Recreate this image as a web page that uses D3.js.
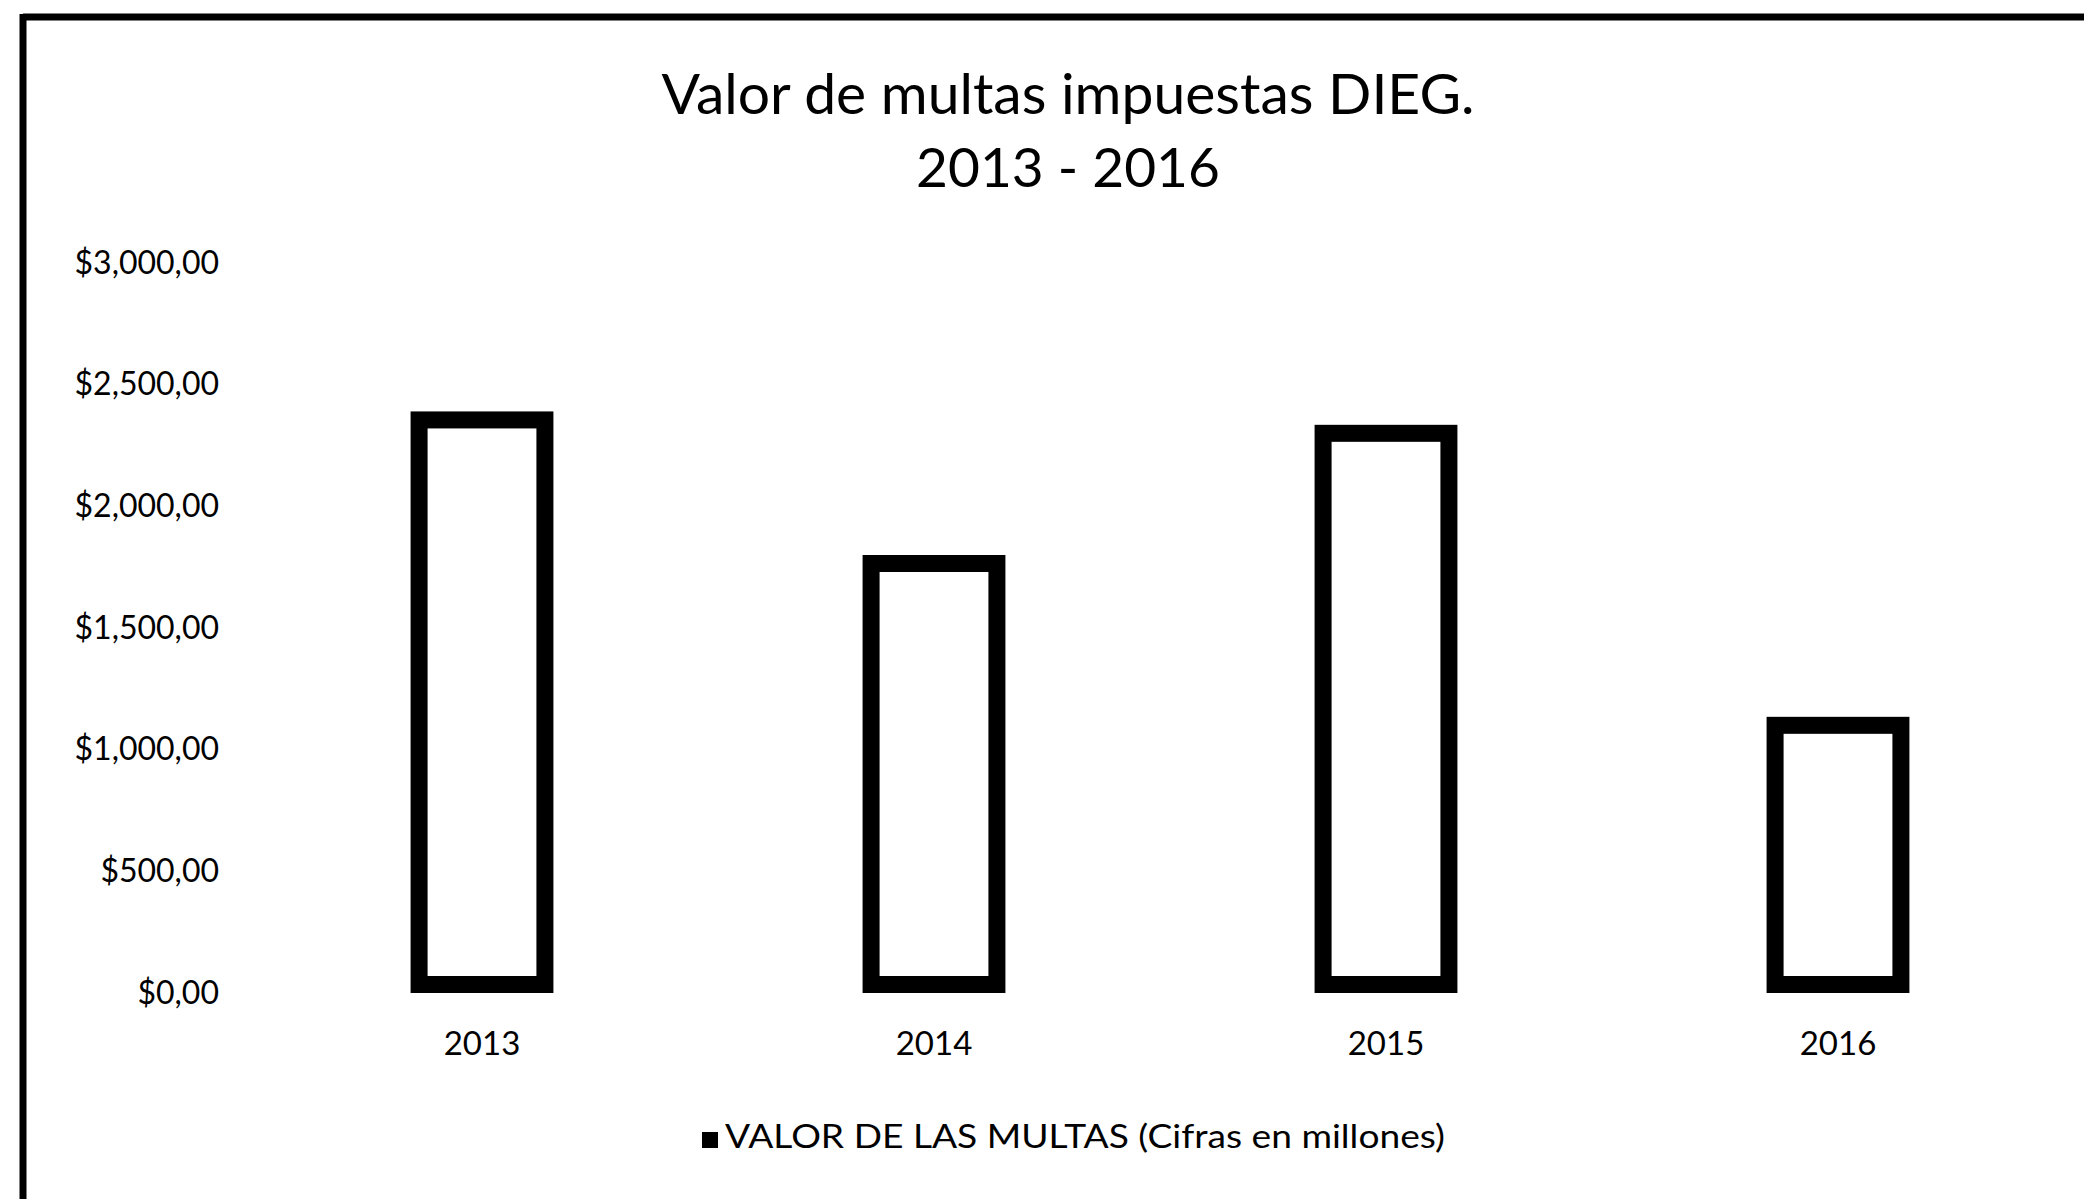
<!DOCTYPE html>
<html>
<head>
<meta charset="utf-8">
<script src="https://cdn.jsdelivr.net/npm/d3@7.9.0/dist/d3.min.js"></script>
<style>
  body { margin: 0; background: #fff; }
  svg { display: block; font-family: Lato, 'Open Sans', sans-serif; }
</style>
</head>
<body>
<div id="chart"></div>
<script>
// data (millions)
const years = ['2013', '2014', '2015', '2016'];
const multas = [2390, 1800, 2335, 1135];
const yTicks = [0, 500, 1000, 1500, 2000, 2500, 3000];

const titleLines = ['Valor de multas impuestas DIEG.', '2013 - 2016'];
const legendLabel = 'VALOR DE LAS MULTAS (Cifras en millones)';

const width = 2084;
const height = 1199;

const svg = d3.select('#chart')
    .append('svg')
    .attr('width', width)
    .attr('height', height);

// frame of the pasted chart (only top + left survive in the scan)
svg.append('line')
    .attr('x1', 23).attr('x2', width)
    .attr('y1', 17).attr('y2', 17)
    .attr('stroke', '#000').attr('stroke-width', 7);
svg.append('line')
    .attr('x1', 23).attr('x2', 23)
    .attr('y1', 14).attr('y2', height)
    .attr('stroke', '#000').attr('stroke-width', 7);

// title
svg.append('g')
    .selectAll('text')
    .data(titleLines)
    .join('text')
    .attr('x', 1068)
    .attr('y', (d, i) => 100 + i * 73)
    .attr('text-anchor', 'middle')
    .attr('dominant-baseline', 'middle')
    .style('font-size', (d, i) => i === 0 ? '57px' : '55px')
    .text(d => d);

// scales
const x = d3.scaleBand()
    .domain(years)
    .range([256, 2064])
    .paddingInner(0.684)
    .paddingOuter(0.342);

const y = d3.scaleLinear()
    .domain([0, 3000])
    .range([993, 263]);

// $3,000,00 style labels
const loc = d3.formatLocale({ decimal: ',', thousands: ',', grouping: [3], currency: ['$', ''] });
const fmt = loc.format('$,.2f');

const yAxis = svg.append('g')
    .attr('transform', 'translate(219,0)')
    .call(d3.axisLeft(y).tickValues(yTicks).tickFormat(fmt).tickSize(0).tickPadding(0));
yAxis.select('.domain').remove();
yAxis.selectAll('text')
    .attr('fill', '#000')
    .style('font-family', 'Lato, sans-serif')
    .style('font-size', '32px');

// bars: white fill, heavy black outline kept inside the bar
const sw = 17;
svg.append('g')
    .selectAll('rect')
    .data(years)
    .join('rect')
    .attr('x', (d) => x(d) + sw / 2)
    .attr('y', (d, i) => y(multas[i]) + sw / 2)
    .attr('width', x.bandwidth() - sw)
    .attr('height', (d, i) => y(0) - y(multas[i]) - sw)
    .attr('fill', '#fff')
    .attr('stroke', '#000')
    .attr('stroke-width', sw);

// category labels
const xAxis = svg.append('g')
    .attr('transform', 'translate(0,1032)')
    .call(d3.axisBottom(x).tickSize(0).tickPadding(0));
xAxis.select('.domain').remove();
xAxis.selectAll('text')
    .attr('fill', '#000')
    .attr('dy', '0.71em')
    .style('font-family', 'Lato, sans-serif')
    .style('font-size', '33px');

// legend
const legend = svg.append('g').attr('transform', 'translate(702,1140)');
legend.append('rect')
    .attr('x', 0).attr('y', -8)
    .attr('width', 16).attr('height', 16)
    .attr('fill', '#000');
legend.append('text')
    .attr('x', 23)
    .attr('y', 0)
    .attr('dominant-baseline', 'middle')
    .attr('textLength', 720)
    .attr('lengthAdjust', 'spacingAndGlyphs')
    .style('font-size', '33px')
    .text(legendLabel);
</script>
</body>
</html>
